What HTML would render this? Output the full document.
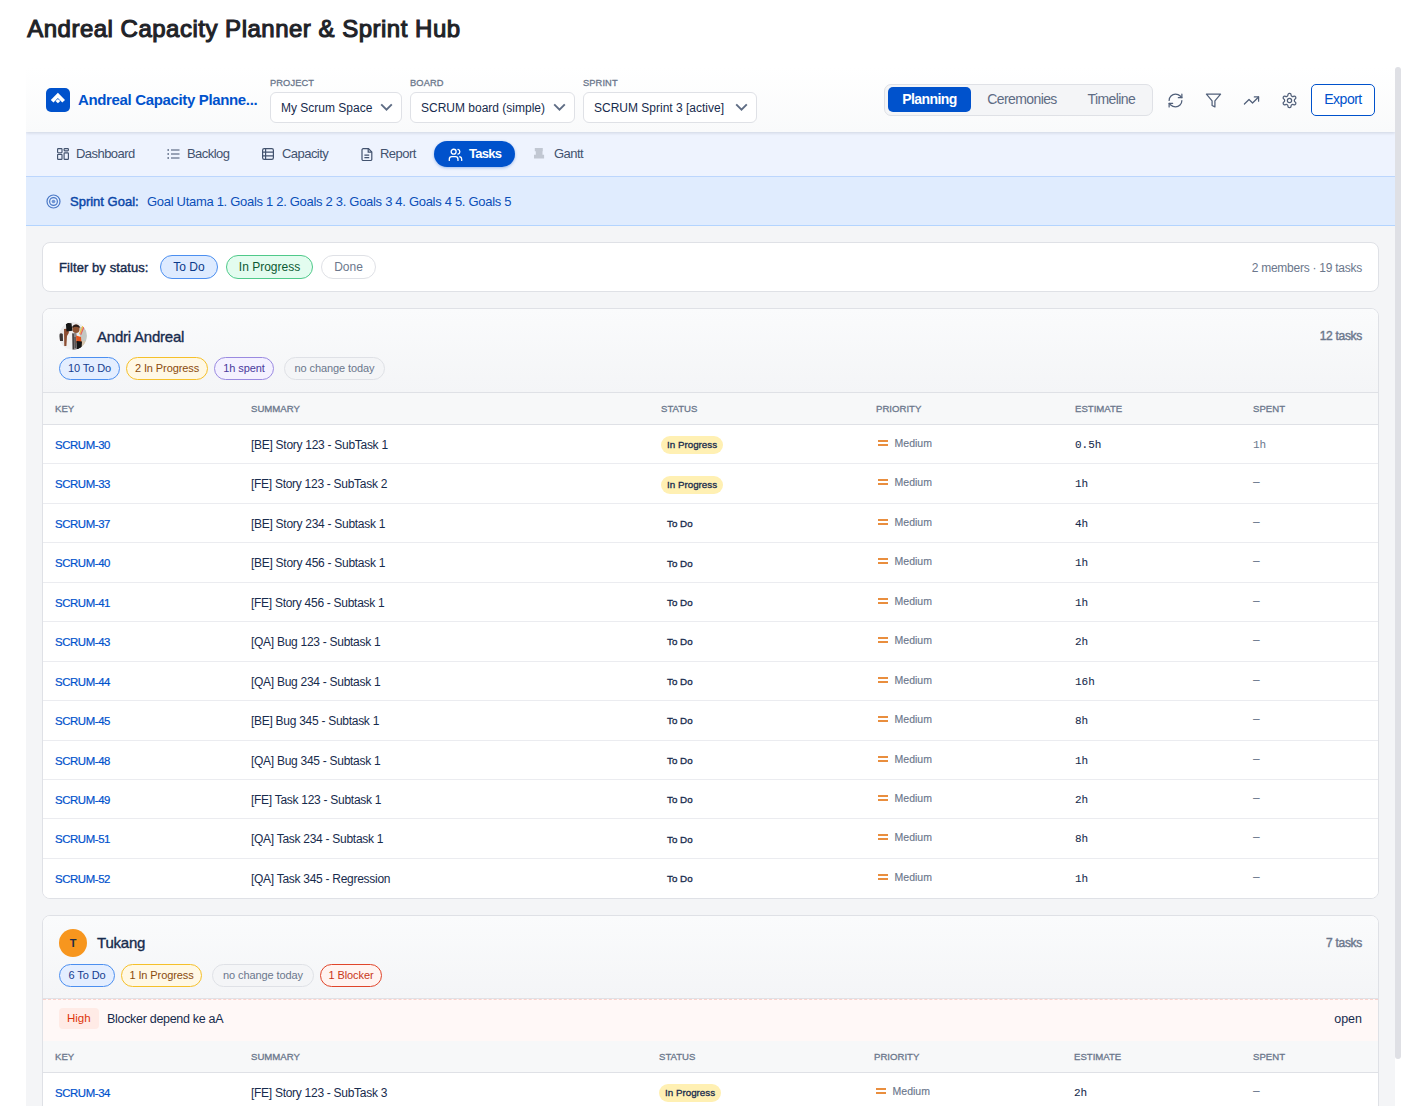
<!DOCTYPE html>
<html><head><meta charset="utf-8">
<style>
*{box-sizing:border-box;margin:0;padding:0}
html,body{width:1417px;height:1106px;overflow:hidden;background:#fff;font-family:"Liberation Sans",sans-serif;color:#172b4d}
h1{position:absolute;left:27.2px;top:15px;font-size:24px;line-height:28px;font-weight:normal;-webkit-text-stroke:1.1px #1f2328;color:#1f2328;letter-spacing:0.5px;white-space:nowrap}
#app{position:absolute;left:26px;top:67px;width:1369px;height:1039px;overflow:hidden;background:#f4f5f7}
#thumb{position:absolute;left:1395px;top:67px;width:6px;height:992px;border-radius:3px;background:#dfe0e5}
.hdr{position:absolute;left:0;top:0;width:1369px;height:65px;background:linear-gradient(#ffffff,#f9fafb);box-shadow:0 1px 3px rgba(20,25,50,.14);z-index:2}
.abs{position:absolute}
.logo{left:20px;top:21px;width:24px;height:24px;border-radius:5px;background:#0052cc}
.apptitle{left:52px;top:24px;font-size:15px;line-height:18px;font-weight:bold;color:#0052cc;letter-spacing:-0.35px;white-space:nowrap}
.lbl{font-size:9.3px;line-height:12px;font-weight:normal;-webkit-text-stroke:0.3px #6b778c;color:#6b778c;letter-spacing:0.1px}
.sel{height:31px;border:1px solid #dfe1e6;border-radius:6px;background:#fff;font-size:12px;line-height:29px;padding-left:10px;padding-top:1px;color:#172b4d;white-space:nowrap}
.sel svg{position:absolute;right:8px;top:10px}
.seg{left:858px;top:16.5px;width:269px;height:32px;border:1px solid #dfe1e6;border-radius:7px;background:#f4f5f7}
.seg div{position:absolute;top:2.5px;height:25px;line-height:25px;font-size:14px;color:#5e6c84;white-space:nowrap;letter-spacing:-0.6px}
.seg .on{left:3px;width:83px;background:#0052cc;color:#fff;font-weight:bold;border-radius:5px;text-align:center;letter-spacing:-0.55px}
.ico{top:25px}
.export{left:1285px;top:17px;width:64px;height:32px;border:1.5px solid #0052cc;border-radius:5px;color:#0052cc;font-size:14px;line-height:29px;text-align:center;background:#fff;letter-spacing:-0.5px}
.nav{position:absolute;left:0;top:65px;width:1369px;height:44px;background:#eef3fe}
.nav .it{position:absolute;top:0;height:43px;line-height:43px;font-size:13px;color:#42526e;letter-spacing:-0.55px;white-space:nowrap}
.nav svg{position:absolute;top:15px}
.pill{position:absolute;left:408px;top:9px;width:81px;height:26px;border-radius:13px;background:#0052cc;box-shadow:0 1px 3px rgba(0,82,204,.35)}
.goal{position:absolute;left:0;top:109px;width:1369px;height:50px;background:#e0ecfe;border-top:1px solid #bcd6fd;border-bottom:1px solid #b3d4ff}
.card{position:absolute;left:16px;width:1337px;background:#fff;border:1px solid #dfe1e6;border-radius:8px;overflow:hidden}
.nav .ic{position:absolute;top:15.5px}
.nav .it.on{color:#fff;font-weight:bold;letter-spacing:-0.7px}
.gl{position:absolute;top:0px;line-height:49px;font-size:13px;white-space:nowrap}
.content{position:absolute;left:0;top:159px;width:1369px;height:900px}
.filt{top:16px;height:50px}
.fl{position:absolute;left:16px;top:1px;line-height:48px;font-size:13px;font-weight:normal;-webkit-text-stroke:0.4px #172b4d;color:#172b4d;letter-spacing:0.08px}
.fp{position:absolute;top:12px;height:24px;border:1px solid;border-radius:12px;font-size:12px;line-height:22px;text-align:center;white-space:nowrap}
.fr{position:absolute;right:16px;top:1px;line-height:48px;font-size:12px;color:#6b778c;letter-spacing:-0.25px}
.mc{background:#fff}
.mh{position:relative;height:84px;background:linear-gradient(#fafbfc,#f4f5f7);border-bottom:1px solid #dfe1e6}
.av{position:absolute;left:16px;top:13px;width:28px;height:28px;border-radius:14px}
.tav{background:#f7961e;color:#1d2a45;font-weight:bold;font-size:11px;line-height:28px;text-align:center}
.nm{position:absolute;left:54px;top:18.5px;font-size:15px;line-height:18px;font-weight:normal;-webkit-text-stroke:0.35px #172b4d;color:#172b4d;letter-spacing:-0.22px}
.cnt{position:absolute;right:16px;top:19px;font-size:12px;line-height:16px;font-weight:normal;-webkit-text-stroke:0.4px #6b778c;color:#6b778c;letter-spacing:-0.3px}
.bd{position:absolute;top:48px;height:23px;border:1px solid;border-radius:12px;font-size:11px;line-height:21px;text-align:center;white-space:nowrap;letter-spacing:-0.1px}
.th{position:relative;height:32px;background:#f7f8f9;border-bottom:1px solid #dfe1e6}
.th .c{position:absolute;top:0px;line-height:31px;font-size:9.6px;font-weight:normal;-webkit-text-stroke:0.3px #6b778c;color:#6b778c;letter-spacing:0px}
.tr{position:relative;height:39.44px;border-bottom:1px solid #ebecf0;background:#fff}
.mc .tr:last-child{height:39.44px;border-bottom:0}
.tr .c{position:absolute;top:0;line-height:38.5px;white-space:nowrap}
.key{font-size:11.4px;color:#0052cc;-webkit-text-stroke:0.2px #0052cc;letter-spacing:-0.4px;top:1px!important}
.sum{font-size:12px;color:#172b4d;letter-spacing:-0.28px;top:1px!important}
.st{display:inline-block;height:18px;line-height:18px;padding:0 6px;border-radius:9px;font-size:9.8px;font-weight:normal;-webkit-text-stroke:0.3px #172b4d;color:#172b4d;letter-spacing:0px;vertical-align:middle;margin-top:1px}
.st.ip{background:#fff0b3}
.pri{font-size:10.5px;color:#6b778c;-webkit-text-stroke:0.15px #6b778c;margin-top:-1px;margin-left:1.5px}
.pri i{display:inline-block;width:10.6px;height:6px;border-top:2px solid #e98e3e;border-bottom:2px solid #e98e3e;margin-right:6.5px;vertical-align:1px}
.est{font-family:"Liberation Mono",monospace;font-size:11px;color:#172b4d;-webkit-text-stroke:0.08px #172b4d;top:1px!important}
.sp{font-family:"Liberation Mono",monospace;font-size:11px;color:#6b778c;top:1px!important}
.dash{font-family:"Liberation Sans",sans-serif;font-size:12px;top:-1px!important}
.blk{position:relative;height:42px;background:#fff8f7;border-top:1px dashed #fbd3cd}
.hi{position:absolute;left:16px;top:8px;height:21px;padding:0 8px;line-height:21px;border-radius:4px;background:#ffebe6;color:#de350b;font-size:11.5px}
.bt{position:absolute;left:64px;top:0;line-height:39px;font-size:12.5px;color:#172b4d;letter-spacing:-0.3px}
.op{position:absolute;right:16px;top:0;line-height:39px;font-size:12.5px;color:#172b4d}
.mh2{height:83px}
.mh2 .av{top:12.5px}
.mh2 .nm{top:18px}
.mh2 .cnt{top:18.5px}
</style></head><body>
<h1>Andreal Capacity Planner &amp; Sprint Hub</h1>
<div id="app">
  <div class="hdr">
    <div class="abs logo"><svg width="24" height="24" viewBox="0 0 24 24"><path d="M11.9 4.7 L19 11.9 L16.3 14.6 L11.9 10.0 L7.5 14.6 L4.8 11.9Z" fill="#fff"/><path d="M11.9 11.0 L14.3 13.1 L11.9 15.2 L9.5 13.1Z" fill="#fff"/></svg></div>
    <div class="abs apptitle">Andreal Capacity Planne...</div>
    <div class="abs lbl" style="left:244px;top:10px">PROJECT</div>
    <div class="abs sel" style="left:244px;top:25px;width:132px">My Scrum Space<svg width="13" height="8" viewBox="0 0 13 8"><path d="M1.2 1.3L6.5 6.6L11.8 1.3" fill="none" stroke="#5e6c84" stroke-width="1.9"/></svg></div>
    <div class="abs lbl" style="left:384px;top:10px">BOARD</div>
    <div class="abs sel" style="left:384px;top:25px;width:165px">SCRUM board (simple)<svg width="13" height="8" viewBox="0 0 13 8"><path d="M1.2 1.3L6.5 6.6L11.8 1.3" fill="none" stroke="#5e6c84" stroke-width="1.9"/></svg></div>
    <div class="abs lbl" style="left:557px;top:10px">SPRINT</div>
    <div class="abs sel" style="left:557px;top:25px;width:174px">SCRUM Sprint 3 [active]<svg width="13" height="8" viewBox="0 0 13 8"><path d="M1.2 1.3L6.5 6.6L11.8 1.3" fill="none" stroke="#5e6c84" stroke-width="1.9"/></svg></div>
    <div class="abs seg">
      <div class="on">Planning</div>
      <div style="left:102.3px">Ceremonies</div>
      <div style="left:202.5px">Timeline</div>
    </div>
    <svg class="abs" style="left:1140.5px;top:24.5px" width="17" height="17" viewBox="0 0 24 24" fill="none" stroke="#505f79" stroke-width="1.75" stroke-linecap="round" stroke-linejoin="round"><path d="M3 12a9 9 0 0 1 9-9 9.75 9.75 0 0 1 6.74 2.74L21 8"/><path d="M21 3v5h-5"/><path d="M21 12a9 9 0 0 1-9 9 9.75 9.75 0 0 1-6.74-2.74L3 16"/><path d="M8 16H3v5"/></svg>
    <svg class="abs" style="left:1178.5px;top:24.5px" width="17" height="17" viewBox="0 0 24 24" fill="none" stroke="#505f79" stroke-width="1.75" stroke-linejoin="round"><path d="M22 3H2l8 9.46V19l4 2v-8.54L22 3z"/></svg>
    <svg class="abs" style="left:1216.5px;top:24.5px" width="17" height="17" viewBox="0 0 24 24" fill="none" stroke="#505f79" stroke-width="1.75" stroke-linecap="round" stroke-linejoin="round"><path d="M22 7l-8.5 8.5-5-5L2 17"/><path d="M16 7h6v6"/></svg>
    <svg class="abs" style="left:1254.5px;top:24.5px" width="17" height="17" viewBox="0 0 24 24" fill="none" stroke="#505f79" stroke-width="1.75" stroke-linecap="round" stroke-linejoin="round"><path d="M12.22 2h-.44a2 2 0 0 0-2 2v.18a2 2 0 0 1-1 1.73l-.43.25a2 2 0 0 1-2 0l-.15-.08a2 2 0 0 0-2.73.73l-.22.38a2 2 0 0 0 .73 2.73l.15.1a2 2 0 0 1 1 1.72v.51a2 2 0 0 1-1 1.74l-.15.09a2 2 0 0 0-.73 2.73l.22.38a2 2 0 0 0 2.73.73l.15-.08a2 2 0 0 1 2 0l.43.25a2 2 0 0 1 1 1.73V20a2 2 0 0 0 2 2h.44a2 2 0 0 0 2-2v-.18a2 2 0 0 1 1-1.73l.43-.25a2 2 0 0 1 2 0l.15.08a2 2 0 0 0 2.73-.73l.22-.39a2 2 0 0 0-.73-2.73l-.15-.08a2 2 0 0 1-1-1.74v-.5a2 2 0 0 1 1-1.74l.15-.09a2 2 0 0 0 .73-2.73l-.22-.38a2 2 0 0 0-2.73-.73l-.15.08a2 2 0 0 1-2 0l-.43-.25a2 2 0 0 1-1-1.73V4a2 2 0 0 0-2-2z"/><circle cx="12" cy="12" r="3"/></svg>
    <div class="abs export">Export</div>
  </div>
  <div class="nav">
    <div class="pill"></div>
    <svg class="ic" style="left:31px" width="12" height="12" viewBox="0 0 12 12" fill="none" stroke="#42526e" stroke-width="1.15"><rect x="0.6" y="0.6" width="4.4" height="4.1" rx="0.7"/><rect x="0.6" y="6.3" width="4.4" height="5.1" rx="0.7"/><rect x="7.1" y="0.6" width="4.3" height="2.2" rx="0.7"/><rect x="7.1" y="4.9" width="4.3" height="6.5" rx="0.7"/></svg>
    <div class="it" style="left:50px">Dashboard</div>
    <svg class="ic" style="left:141px" width="13" height="12" viewBox="0 0 13 12" fill="none" stroke="#42526e" stroke-width="1.2"><path d="M4 2h8.5M4 6h8.5M4 10h8.5"/><path d="M0.5 1.35h1.4v1.3H0.5zM0.5 5.35h1.4v1.3H0.5zM0.5 9.35h1.4v1.3H0.5z" fill="#42526e" stroke="none"/></svg>
    <div class="it" style="left:161px">Backlog</div>
    <svg class="ic" style="left:236px" width="12" height="12" viewBox="0 0 12 12" fill="none" stroke="#42526e" stroke-width="1.2"><rect x="0.6" y="0.6" width="10.8" height="10.8" rx="1.6"/><path d="M0.6 4.2h10.8M0.6 7.8h10.8M3.6 0.6v10.8"/></svg>
    <div class="it" style="left:256px">Capacity</div>
    <svg class="ic" style="left:335px" width="12" height="13" viewBox="0 0 12 13" fill="none" stroke="#42526e" stroke-width="1.2"><path d="M7.5 0.7H2.2a1.2 1.2 0 0 0-1.2 1.2v9.4a1.2 1.2 0 0 0 1.2 1.2h7.4a1.2 1.2 0 0 0 1.2-1.2V4z"/><path d="M7.2 0.7v3.5h3.5M3.4 7.2h4.8M3.4 9.6h4.8"/></svg>
    <div class="it" style="left:354px">Report</div>
    <svg class="ic" style="left:422px" width="15" height="13" viewBox="0 0 24 21" fill="none" stroke="#fff" stroke-width="2.1" stroke-linecap="round"><path d="M16 20v-2a4 4 0 0 0-4-4H6a4 4 0 0 0-4 4v2"/><circle cx="9" cy="6" r="4"/><path d="M22 20v-2a4 4 0 0 0-3-3.87M16 2.13a4 4 0 0 1 0 7.75"/></svg>
    <div class="it on" style="left:443px">Tasks</div>
    <svg class="ic" style="left:508px;top:16px" width="11" height="11" viewBox="0 0 11 11" fill="#c1c7d2"><path d="M0.8 0h8v3.2h-0.3v3.6h1.6v3.6H0v-3.6h1.8V3.2H0.8z"/></svg>
    <div class="it" style="left:528px">Gantt</div>
  </div>
  <div class="goal">
    <svg style="position:absolute;left:20px;top:16.5px" width="15" height="15" viewBox="0 0 24 24" fill="none" stroke="#4a78c6" stroke-width="1.9"><circle cx="12" cy="12" r="10.4"/><circle cx="12" cy="12" r="6.2"/><circle cx="12" cy="12" r="2.9" fill="#4a78c6" fill-opacity="0.75" stroke="none"/></svg>
    <div class="gl" style="left:44px;-webkit-text-stroke:0.45px #0b47a8;color:#0b47a8;letter-spacing:0px">Sprint Goal:</div>
    <div class="gl" style="left:121px;color:#0b4fb8;letter-spacing:-0.3px">Goal Utama 1. Goals 1 2. Goals 2 3. Goals 3 4. Goals 4 5. Goals 5</div>
  </div>
  <div class="content">
    <div class="card filt">
      <div class="fl">Filter by status:</div>
      <span class="fp" style="left:117px;background:#deebff;border-color:#4c8ff0;color:#0b3a8a;width:58px">To Do</span>
      <span class="fp" style="left:183px;background:#e3fcef;border-color:#4fc98a;color:#0b5a33;width:87px">In Progress</span>
      <span class="fp" style="left:278px;background:#fff;border-color:#dfe1e6;color:#6b778c;width:55px">Done</span>
      <div class="fr">2 members · 19 tasks</div>
    </div>
    <div class="card mc" style="top:82px;height:591px">
      <div class="mh">
        <svg class="av" width="28" height="28" viewBox="0 0 28 28"><defs><clipPath id="ac"><circle cx="14" cy="14" r="14"/></clipPath><filter id="bl" x="-10%" y="-10%" width="120%" height="120%"><feGaussianBlur stdDeviation="0.55"/></filter></defs><g clip-path="url(#ac)"><g filter="url(#bl)"><rect width="28" height="28" fill="#ebebec"/><rect x="21" y="5" width="8" height="18" fill="#c3c7c3"/><rect x="20" y="19" width="9" height="10" fill="#d6c7b0"/><path d="M0.5 12 Q2 10.5 3.8 12 L4 19 L0.5 19Z" fill="#3a3434"/><path d="M7 10.5 L13 10 L13.5 28 L6.5 28Z" fill="#f1f1f1"/><path d="M13 11 L17.5 11 L18 28 L13.5 28Z" fill="#8d8888"/><path d="M13.6 12 L14.6 12 L14.8 27 L13.8 27Z M15.6 15 L16.4 15 L16.6 26 L15.8 26Z" fill="#2b2727"/><path d="M17 13.5 L22 15 L22.5 21.5 L17.5 21Z" fill="#e2531c"/><path d="M17.5 19 L23 19.5 L22.5 27 L17.8 27Z" fill="#141212"/><path d="M5 7 L9.8 6.5 L9.8 11 L8 14 L7.4 24 L5.3 24 L5.1 14Z" fill="#8c4e30"/><ellipse cx="17" cy="6.8" rx="3.6" ry="4.3" fill="#8e5232"/><path d="M13.3 4.5 Q17 0.5 20.8 4.5 L20.6 6 Q17 3.3 13.5 6Z" fill="#2a1f1c"/><path d="M6.8 0.8 L12.5 1.2 L13.4 8.8 L7.5 9.4Z" fill="#171616"/><path d="M20 12 L23.5 3.5 L24.5 4 L21 12.5Z" fill="#f0c238"/><path d="M21.2 12.5 L24.6 4.2 L25.6 4.8 L22.2 13Z" fill="#e95a5a"/></g></g></svg>
        <div class="nm">Andri Andreal</div>
        <div class="cnt">12 tasks</div>
        <div class="bd" style="left:16px;width:61px;background:#e4eeff;border-color:#4c8ff0;color:#163d8f">10 To Do</div>
        <div class="bd" style="left:83px;width:82px;background:#fff8e5;border-color:#f5c02a;color:#8a4b0d">2 In Progress</div>
        <div class="bd" style="left:171px;width:60px;background:#f4f1ff;border-color:#9a8ae0;color:#4a3a9c">1h spent</div>
        <div class="bd" style="left:241px;width:101px;background:#f4f5f7;border-color:#dfe1e6;color:#6b778c">no change today</div>
      </div>
      <div class="th"><div class="c" style="left:12px">KEY</div><div class="c" style="left:208px">SUMMARY</div><div class="c" style="left:618px">STATUS</div><div class="c" style="left:833px">PRIORITY</div><div class="c" style="left:1032px">ESTIMATE</div><div class="c" style="left:1210px">SPENT</div></div>
      <div class="tr"><div class="c key" style="left:12px">SCRUM-30</div><div class="c sum" style="left:208px">[BE] Story 123 - SubTask 1</div><div class="c" style="left:618px"><span class="st ip">In Progress</span></div><div class="c pri" style="left:833px"><i></i>Medium</div><div class="c est" style="left:1032px">0.5h</div><div class="c sp" style="left:1210px">1h</div></div><div class="tr"><div class="c key" style="left:12px">SCRUM-33</div><div class="c sum" style="left:208px">[FE] Story 123 - SubTask 2</div><div class="c" style="left:618px"><span class="st ip">In Progress</span></div><div class="c pri" style="left:833px"><i></i>Medium</div><div class="c est" style="left:1032px">1h</div><div class="c sp dash" style="left:1210px">–</div></div><div class="tr"><div class="c key" style="left:12px">SCRUM-37</div><div class="c sum" style="left:208px">[BE] Story 234 - Subtask 1</div><div class="c" style="left:618px"><span class="st td">To Do</span></div><div class="c pri" style="left:833px"><i></i>Medium</div><div class="c est" style="left:1032px">4h</div><div class="c sp dash" style="left:1210px">–</div></div><div class="tr"><div class="c key" style="left:12px">SCRUM-40</div><div class="c sum" style="left:208px">[BE] Story 456 - Subtask 1</div><div class="c" style="left:618px"><span class="st td">To Do</span></div><div class="c pri" style="left:833px"><i></i>Medium</div><div class="c est" style="left:1032px">1h</div><div class="c sp dash" style="left:1210px">–</div></div><div class="tr"><div class="c key" style="left:12px">SCRUM-41</div><div class="c sum" style="left:208px">[FE] Story 456 - Subtask 1</div><div class="c" style="left:618px"><span class="st td">To Do</span></div><div class="c pri" style="left:833px"><i></i>Medium</div><div class="c est" style="left:1032px">1h</div><div class="c sp dash" style="left:1210px">–</div></div><div class="tr"><div class="c key" style="left:12px">SCRUM-43</div><div class="c sum" style="left:208px">[QA] Bug 123 - Subtask 1</div><div class="c" style="left:618px"><span class="st td">To Do</span></div><div class="c pri" style="left:833px"><i></i>Medium</div><div class="c est" style="left:1032px">2h</div><div class="c sp dash" style="left:1210px">–</div></div><div class="tr"><div class="c key" style="left:12px">SCRUM-44</div><div class="c sum" style="left:208px">[QA] Bug 234 - Subtask 1</div><div class="c" style="left:618px"><span class="st td">To Do</span></div><div class="c pri" style="left:833px"><i></i>Medium</div><div class="c est" style="left:1032px">16h</div><div class="c sp dash" style="left:1210px">–</div></div><div class="tr"><div class="c key" style="left:12px">SCRUM-45</div><div class="c sum" style="left:208px">[BE] Bug 345 - Subtask 1</div><div class="c" style="left:618px"><span class="st td">To Do</span></div><div class="c pri" style="left:833px"><i></i>Medium</div><div class="c est" style="left:1032px">8h</div><div class="c sp dash" style="left:1210px">–</div></div><div class="tr"><div class="c key" style="left:12px">SCRUM-48</div><div class="c sum" style="left:208px">[QA] Bug 345 - Subtask 1</div><div class="c" style="left:618px"><span class="st td">To Do</span></div><div class="c pri" style="left:833px"><i></i>Medium</div><div class="c est" style="left:1032px">1h</div><div class="c sp dash" style="left:1210px">–</div></div><div class="tr"><div class="c key" style="left:12px">SCRUM-49</div><div class="c sum" style="left:208px">[FE] Task 123 - Subtask 1</div><div class="c" style="left:618px"><span class="st td">To Do</span></div><div class="c pri" style="left:833px"><i></i>Medium</div><div class="c est" style="left:1032px">2h</div><div class="c sp dash" style="left:1210px">–</div></div><div class="tr"><div class="c key" style="left:12px">SCRUM-51</div><div class="c sum" style="left:208px">[QA] Task 234 - Subtask 1</div><div class="c" style="left:618px"><span class="st td">To Do</span></div><div class="c pri" style="left:833px"><i></i>Medium</div><div class="c est" style="left:1032px">8h</div><div class="c sp dash" style="left:1210px">–</div></div><div class="tr"><div class="c key" style="left:12px">SCRUM-52</div><div class="c sum" style="left:208px">[QA] Task 345 - Regression</div><div class="c" style="left:618px"><span class="st td">To Do</span></div><div class="c pri" style="left:833px"><i></i>Medium</div><div class="c est" style="left:1032px">1h</div><div class="c sp dash" style="left:1210px">–</div></div>
    </div>
    <div class="card mc" style="top:689px;height:400px">
      <div class="mh mh2">
        <div class="av tav">T</div>
        <div class="nm">Tukang</div>
        <div class="cnt">7 tasks</div>
        <div class="bd" style="left:16px;width:56px;background:#e4eeff;border-color:#4c8ff0;color:#163d8f">6 To Do</div>
        <div class="bd" style="left:78px;width:81px;background:#fff8e5;border-color:#f5c02a;color:#8a4b0d">1 In Progress</div>
        <div class="bd" style="left:169px;width:102px;background:#f4f5f7;border-color:#dfe1e6;color:#6b778c">no change today</div>
        <div class="bd" style="left:277px;width:62px;background:#fff4f1;border-color:#e0452a;color:#c8361a">1 Blocker</div>
      </div>
      <div class="blk"><span class="hi">High</span><span class="bt">Blocker depend ke aA</span><span class="op">open</span></div>
      <div class="th2"><div class="th"><div class="c" style="left:12px">KEY</div><div class="c" style="left:208px">SUMMARY</div><div class="c" style="left:616px">STATUS</div><div class="c" style="left:831px">PRIORITY</div><div class="c" style="left:1031px">ESTIMATE</div><div class="c" style="left:1210px">SPENT</div></div></div>
      <div class="tr"><div class="c key" style="left:12px">SCRUM-34</div><div class="c sum" style="left:208px">[FE] Story 123 - SubTask 3</div><div class="c" style="left:616px"><span class="st ip">In Progress</span></div><div class="c pri" style="left:831px"><i></i>Medium</div><div class="c est" style="left:1031px">2h</div><div class="c sp dash" style="left:1210px">–</div></div><div class="tr"><div class="c key" style="left:12px">SCRUM-35</div><div class="c sum" style="left:208px">[BE] Story 123 - SubTask 4</div><div class="c" style="left:616px"><span class="st td">To Do</span></div><div class="c pri" style="left:831px"><i></i>Medium</div><div class="c est" style="left:1031px">1h</div><div class="c sp dash" style="left:1210px">–</div></div><div class="tr"><div class="c key" style="left:12px">SCRUM-36</div><div class="c sum" style="left:208px">[QA] Story 123 - SubTask 5</div><div class="c" style="left:616px"><span class="st td">To Do</span></div><div class="c pri" style="left:831px"><i></i>Medium</div><div class="c est" style="left:1031px">1h</div><div class="c sp dash" style="left:1210px">–</div></div>
    </div>
  </div>
</div>
<div id="thumb"></div>
</body></html>
